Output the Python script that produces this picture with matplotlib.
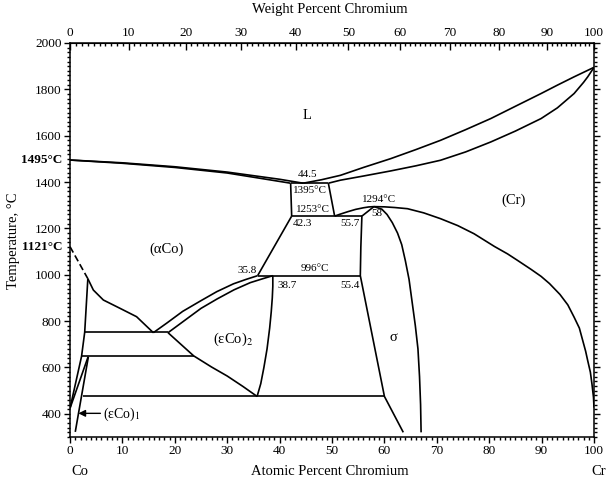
import numpy as np
import matplotlib
matplotlib.use("Agg")
import matplotlib.pyplot as plt
from matplotlib.ticker import MultipleLocator

plt.rcParams["font.family"] = ["Liberation Serif", "DejaVu Serif"]
plt.rcParams["mathtext.fontset"] = "stix"

# ---- data (at.% Cr, deg C) ----
liq_co_x = [0, 10, 20, 30, 40, 44.5]
liq_co_t = [1495, 1483, 1466, 1443, 1412, 1395]
sol_co_x = [0, 10, 20, 30, 38, 42.1]
sol_co_t = [1495, 1481, 1463, 1439, 1410, 1395]

liq_cr_x = [44.5, 48, 51.6, 56, 61.2, 66, 70.7, 75.5, 80.3, 85, 89.9, 93, 96.2, 100]
liq_cr_t = [1395, 1410, 1429, 1463, 1501, 1540, 1580, 1626, 1674, 1727, 1782,
            1818, 1854, 1895]
sol_cr_x = [49.3, 51.6, 56, 61.2, 66, 70.7, 75.5, 80.3, 85, 89.9, 93, 96.2, 98,
            98.8, 100]
sol_cr_t = [1395, 1408, 1426, 1448, 1470, 1494, 1530, 1573, 1620, 1674, 1720,
            1782, 1830, 1854, 1895]

box_x = [42.1, 42.3]
box_t = [1395, 1253]
cr_solvus_x = [49.3, 50.5]
cr_solvus_t = [1395, 1253]

cr_sigma_x = [50.5, 51.5, 53, 54.5, 56, 57, 58, 60, 62, 64.4, 67.5, 70.7, 74,
              77.1, 81, 83.5, 85.4, 88, 89.9, 91.5, 93.5, 95, 96.2, 97.2, 97.8,
              98.4, 98.8, 99.3, 99.6, 99.9, 100]
cr_sigma_t = [1253, 1261, 1272, 1282, 1289, 1292.5, 1294, 1293, 1290, 1285, 1267,
              1242, 1212, 1177, 1122, 1090, 1062, 1023, 993, 962, 915, 870, 817,
              770, 720, 670, 629, 580, 530, 471, 427]

sig_left_x = [58, 55.7, 55.5, 55.4, 60.0, 63.6]
sig_left_t = [1294, 1253, 1120, 996, 475, 320]
sig_right_x = [58, 59.5, 60.5, 61.5, 62.5, 63.3, 64.0, 64.7, 65.3, 65.9, 66.4,
               66.7, 66.9, 67.0]
sig_right_t = [1294, 1283, 1260, 1225, 1180, 1130, 1060, 980, 880, 780, 680,
               560, 440, 320]

aco_sig_x = [35.8, 42.3]
aco_sig_t = [996, 1253]

dash_x = [0, 3.4]
dash_t = [1121, 983]

aco_low_x = [3.4, 4.45, 6.36, 9.55, 12.7, 15.9]
aco_low_t = [983, 934, 891, 855, 819, 750]
aco_up_x = [15.9, 18.5, 21.5, 24.9, 28, 31.2, 33.6, 35.8]
aco_up_t = [750, 792, 842, 887, 927, 961, 980, 996]
eco2_up_x = [18.7, 22.3, 25, 28.1, 31.3, 34.4, 36.8, 38.7]
eco2_up_t = [750, 810, 855, 896, 935, 966, 983, 996]
eco2_right_x = [38.7, 38.7, 38.6, 38.4, 38.1, 37.6, 37.0, 36.4, 35.7]
eco2_right_t = [996, 950, 900, 840, 770, 680, 600, 530, 475]
eco2_left_x = [18.7, 23.6, 27, 30, 33, 35.7]
eco2_left_t = [750, 650, 602, 563, 518, 475]

co1_x = [3.4, 2.8, 2.2, 0]
co1_t = [983, 752, 648, 424]
co3_x = [0, 3.45]
co3_t = [424, 646]
co4_x = [1.0, 3.5]
co4_t = [322, 646]

# isotherms: (x_start, x_end, T)
iso_x0 = [2.8, 2.2, 2.4, 35.8, 42.3, 42.1]
iso_x1 = [18.7, 23.6, 60.0, 55.4, 55.7, 49.3]
iso_t = [752, 648, 475, 996, 1253, 1395]

# annotations
ann_text = ["44.5", "1395°C", "1253°C", "42.3", "55.7", "1294°C", "58",
            "996°C", "38.7", "55.4", "35.8"]
ann_x = [45.3, 45.8, 46.4, 44.3, 53.5, 58.9, 58.5, 46.7, 41.4, 53.4, 33.8]
ann_t = [1432, 1364, 1281, 1220, 1220, 1324, 1264, 1026, 954, 954, 1018]

phase_text = ["L", "(Cr)", "(αCo)", r"(εCo)$_2$", "σ"]
phase_x = [45.3, 84.7, 18.5, 31.2, 61.8]
phase_t = [1689, 1321, 1112, 723, 730]


def wt2at(w):
    w = np.asarray(w, dtype=float)
    a = w / 52.00
    b = (100 - w) / 58.93
    with np.errstate(divide="ignore", invalid="ignore"):
        return 100 * a / (a + b)


def at2wt(x):
    x = np.asarray(x, dtype=float)
    a = x * 52.00
    b = (100 - x) * 58.93
    with np.errstate(divide="ignore", invalid="ignore"):
        return 100 * a / (a + b)


fig = plt.figure(figsize=(6.1, 4.82), dpi=100)
ax = fig.add_axes([0.1148, 0.0934, 0.8590, 0.8174])
lw = 1.2
kw = dict(color="black", lw=lw, solid_capstyle="butt", solid_joinstyle="round")

for xs, ts in [(liq_co_x, liq_co_t), (sol_co_x, sol_co_t), (liq_cr_x, liq_cr_t),
               (sol_cr_x, sol_cr_t), (box_x, box_t), (cr_solvus_x, cr_solvus_t),
               (cr_sigma_x, cr_sigma_t), (sig_left_x, sig_left_t),
               (sig_right_x, sig_right_t), (aco_sig_x, aco_sig_t),
               (aco_low_x, aco_low_t), (aco_up_x, aco_up_t),
               (eco2_up_x, eco2_up_t), (eco2_right_x, eco2_right_t),
               (eco2_left_x, eco2_left_t), (co1_x, co1_t),
               (co3_x, co3_t), (co4_x, co4_t)]:
    ax.plot(xs, ts, **kw)

ax.plot(dash_x, dash_t, color="black", lw=lw, dashes=(4, 2))

for x0, x1, t in zip(iso_x0, iso_x1, iso_t):
    ax.plot([x0, x1], [t, t], **kw)

for s, x, t in zip(ann_text, ann_x, ann_t):
    ax.text(x, t, s, fontsize=8, ha="center", va="center")

for s, x, t in zip(phase_text, phase_x, phase_t):
    ax.text(x, t, s, fontsize=10.5, ha="center", va="center")

ax.annotate("", xy=(1.6, 402), xytext=(5.8, 402),
            arrowprops=dict(arrowstyle="-|>", color="black", lw=1.0,
                            mutation_scale=10, shrinkA=0, shrinkB=0))
ax.text(6.3, 398, r"(εCo)$_1$", fontsize=10, ha="left", va="center")

ax.set_xlim(0, 100)
ax.set_ylim(300, 2000)
ax.xaxis.set_major_locator(MultipleLocator(10))
ax.xaxis.set_minor_locator(MultipleLocator(1))
ax.set_yticks(range(400, 2001, 200))
ax.yaxis.set_minor_locator(MultipleLocator(20))
ax.tick_params(which="both", direction="out", labelsize=9.5, width=1,
               right=True, top=False)
ax.tick_params(which="major", length=4, pad=2)
ax.tick_params(which="minor", length=2.5)
for sp in ax.spines.values():
    sp.set_linewidth(1.1)

tr = ax.get_yaxis_transform()
ax.text(-0.014, 1495, "1495°C", transform=tr, ha="right", va="center",
        fontsize=9.5, fontweight="bold")
ax.text(-0.014, 1121, "1121°C", transform=tr, ha="right", va="center",
        fontsize=9.5, fontweight="bold")

sec = ax.secondary_xaxis("top", functions=(at2wt, wt2at))
sec.set_xticks(range(0, 101, 10))
sec.xaxis.set_minor_locator(MultipleLocator(1))
sec.tick_params(which="both", direction="in", labelsize=9.5, width=1)
sec.tick_params(which="major", length=5, pad=3)
sec.tick_params(which="minor", length=2.5)

fig.text(0.541, 0.981, "Weight Percent Chromium", ha="center", va="center",
         fontsize=10.5)
fig.text(0.541, 0.021, "Atomic Percent Chromium", ha="center", va="center",
         fontsize=10.5)
fig.text(0.131, 0.021, "Co", ha="center", va="center", fontsize=10.5)
fig.text(0.982, 0.021, "Cr", ha="center", va="center", fontsize=10.5)
fig.text(0.022, 0.5, "Temperature, °C", ha="center", va="center",
         rotation=90, fontsize=10.5)

fig.savefig("out.png", dpi=100)
